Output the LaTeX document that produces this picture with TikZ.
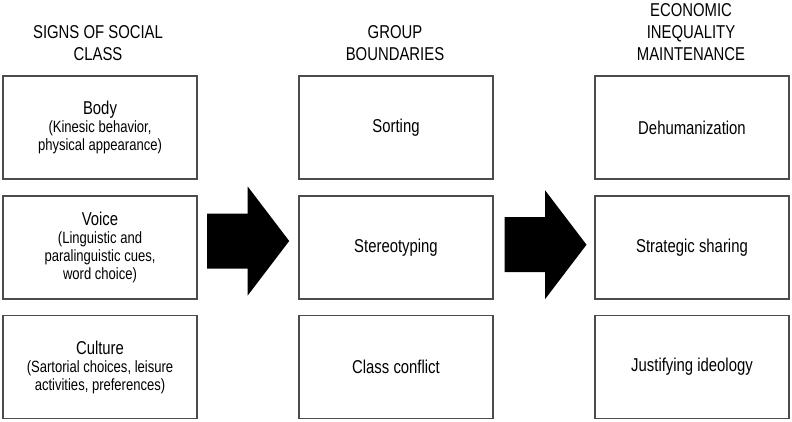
\documentclass[tikz,border=0pt]{standalone}
\usepackage{fontspec}
\setmainfont{Liberation Sans}[FakeStretch=0.80]

\newcommand{\sub}[1]{{\fontsize{16.3}{18}\selectfont #1}}
% filled block arrow, drawn round the point where head meets shaft
\newcommand{\blockarrow}[1]{\fill[shift={(#1)}] (-40.5,-27.5) -- (0,-27.5) -- (0,-54.5) -- (41.5,0)
  -- (0,54.5) -- (0,27.5) -- (-40.5,27.5) -- cycle;}

\begin{document}
\begin{tikzpicture}[x=1pt, y=-1pt,
  panel/.style={draw=black!70, line width=1.1pt, minimum width=194pt, minimum height=103pt, align=center, font=\fontsize{18.6}{18}\selectfont},
  heading/.style={align=center, anchor=base, font=\fontsize{18.6}{21.7}\selectfont}]
\useasboundingbox (0,0) rectangle (792,421);
% column headings (anchored on the baseline of their last line)
\node[heading] (h1) at (98,60) {SIGNS OF SOCIAL\\CLASS};
\node[heading] (h2) at (395,60) {GROUP\\BOUNDARIES};
\node[heading] (h3) at (691,60) {ECONOMIC\\INEQUALITY\\MAINTENANCE};
% signs of social class
\node[panel] (body) at (100,127.5) {Body\\\sub{(Kinesic behavior,}\\\sub{physical appearance)}};
\node[panel] (voice) at (100,247.5) {Voice\\\sub{(Linguistic and}\\\sub{paralinguistic cues,}\\\sub{word choice)}};
\node[panel] (culture) at (100,367) {Culture\\\sub{(Sartorial choices, leisure}\\\sub{activities, preferences)}};
% group boundaries
\node[panel] (sorting) at (396,127.5) {Sorting};
\node[panel] (stereo) at (396,247.5) {Stereotyping};
\node[panel] (conflict) at (396,367) {Class conflict};
% economic inequality maintenance
\node[panel] (dehum) at (692,127.5) {Dehumanization};
\node[panel] (sharing) at (692,247.5) {Strategic sharing};
\node[panel] (justify) at (692,367) {Justifying ideology};
% block arrows between the columns
\coordinate (a1) at (247.7,241);
\coordinate (a2) at (545,244.7);
\blockarrow{a1}
\blockarrow{a2}
\end{tikzpicture}
\end{document}
